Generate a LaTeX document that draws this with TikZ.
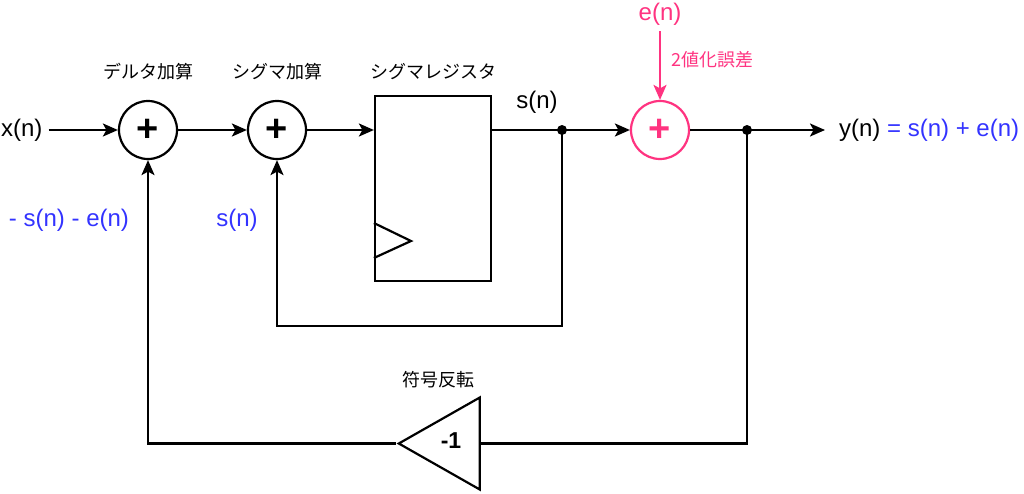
\documentclass[tikz,border=0pt]{standalone}
\usepackage{fontspec}
\setmainfont{Liberation Sans}
\newfontfamily\jpfont{Noto Sans CJK JP}
\usetikzlibrary{arrows.meta,shapes.geometric}
\definecolor{errpink}{RGB}{255,51,128}
\definecolor{sigblue}{RGB}{51,51,255}
\begin{document}
\begin{tikzpicture}[x=1pt,y=-1pt,line width=2.2pt,
  sumnode/.style={circle,draw,minimum size=58pt,inner sep=0pt,font=\fontsize{38}{38}\selectfont\bfseries},
  regbox/.style={draw,rectangle,minimum width=116pt,minimum height=185pt,inner sep=0pt},
  sig/.style={font=\fontsize{24}{24}\selectfont,inner sep=0pt},
  jplabel/.style={font=\jpfont\fontsize{18}{18}\selectfont,inner sep=0pt},
  flow/.style={-{Stealth[length=15pt,width=13pt,inset=3.5pt]}},
  dotmark/.style={circle,fill,minimum size=10pt,inner sep=0pt},
]
\useasboundingbox (0,0) rectangle (1024,493);

% nodes
\node[sig,anchor=west] (x) at (0,130) {x(n)};
\node[sumnode] (d) at (148,130) {+};
\node[sumnode] (s) at (277,130) {+};
\node[regbox] (r) at (433,188.5) {};
\node[sumnode,draw=errpink,text=errpink] (q) at (660,130) {+};
\node[sig,anchor=west] (y) at (838,130) {y(n) \textcolor{sigblue}{= s(n) + e(n)}};
\node[sig,text=errpink] (e) at (660,14) {e(n)};
\node[draw,isosceles triangle,isosceles triangle stretches,shape border rotate=180,
      minimum width=92pt,minimum height=81pt,inner sep=0pt] (inv) at (453,443.5) {};
\node[font=\fontsize{23}{23}\selectfont\bfseries,inner sep=0pt] (m1) at (451,441) {-1};

\coordinate (j1) at (562,130);
\coordinate (j2) at (747,130);
\coordinate (c1) at (562,326);
\coordinate (c2) at (747,443.5);

% labels
\node[jplabel] (ld) at (148,72) {デルタ加算};
\node[jplabel] (ls) at (277,72) {シグマ加算};
\node[jplabel] (lr) at (433,72) {シグマレジスタ};
\node[jplabel] (li) at (438,380) {符号反転};
\node[jplabel,text=errpink] (le) at (712,60) {2値化誤差};
\node[sig] (lsn) at (537,102) {s(n)};
\node[sig,text=sigblue] (lfb1) at (69,220) {- s(n) - e(n)};
\node[sig,text=sigblue] (lfb2) at (237,220) {s(n)};

% clock mark
\draw (r.west |- 0,223) -- (411,241) -- (r.west |- 0,258);

% connectors
\draw[flow,shorten <=5pt] (x) -- (d);
\draw[flow] (d) -- (s);
\draw[flow] (s.east) -- (s.east -| r.west);
\draw (r.east |- j1) -- (j1);
\draw[flow] (j1) -- (q);
\draw[flow,shorten >=13pt] (q) -- (y.west);
\draw[flow,draw=errpink,color=errpink,shorten <=5pt] (e) -- (q);
\draw[flow] (j1) -- (c1) -| (s.south);
\draw (j2) -- (c2) -- (inv.lower side);
\draw[flow] (inv.apex) -| (d.south);

\node[dotmark] (dj1) at (j1) {};
\node[dotmark] (dj2) at (j2) {};
\end{tikzpicture}
\end{document}
